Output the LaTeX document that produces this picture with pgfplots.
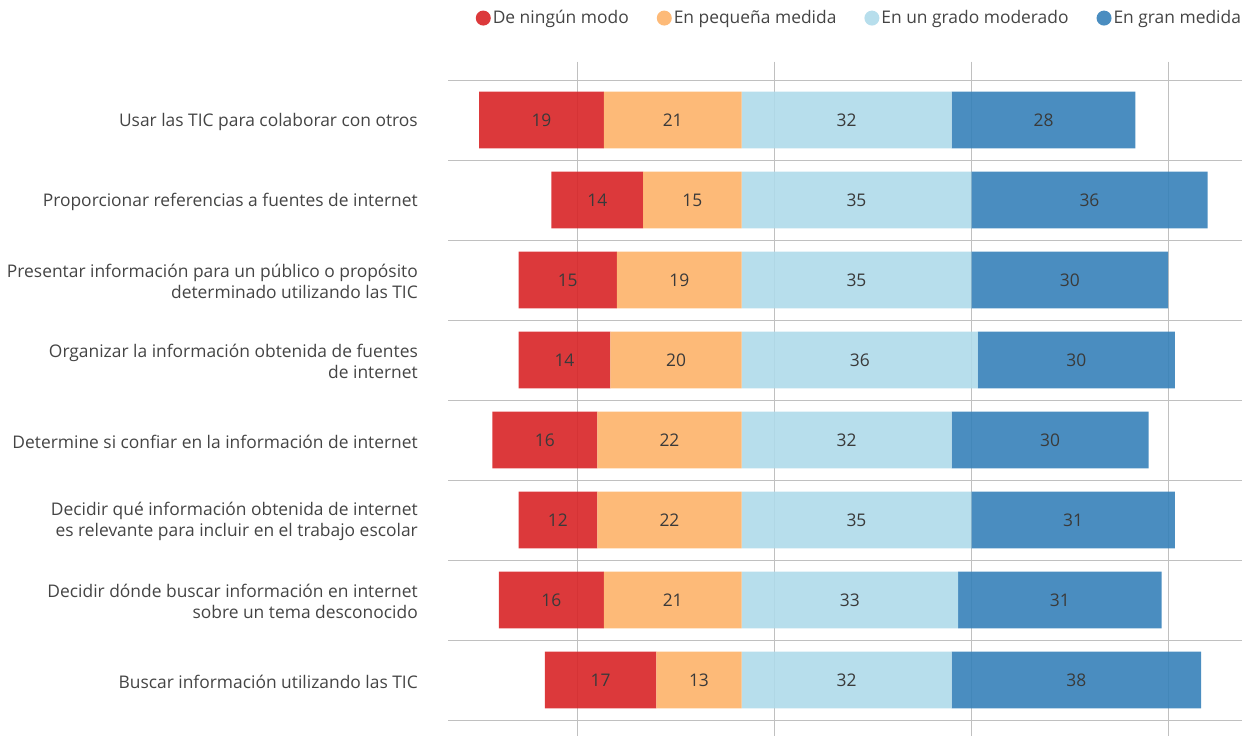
\documentclass[border=0pt]{standalone}
\usepackage{pgfplots}
\pgfplotsset{compat=1.18}
\usepackage{pgfplotstable}
\usepackage{fontspec}
\setmainfont{Open Sans}

\definecolor{cRed}{RGB}{216,36,38}
\definecolor{cOra}{RGB}{253,178,105}
\definecolor{cLbl}{RGB}{175,218,234}
\definecolor{cDbl}{RGB}{54,129,185}
\definecolor{txt}{RGB}{68,68,68}
\definecolor{gridc}{RGB}{192,192,192}

% negative columns go left of the centre line, the positive ones right
\pgfplotstableread{
idx red ora lbl dbl nred nora
0 19 21 32 28 -19 -21
1 14 15 35 36 -14 -15
2 15 19 35 30 -15 -19
3 14 20 36 30 -14 -20
4 16 22 32 30 -16 -22
5 12 22 35 31 -12 -22
6 16 21 33 31 -16 -21
7 17 13 32 38 -17 -13
}\datatable

\begin{document}
\begin{tikzpicture}
\useasboundingbox (0,0) rectangle (1256pt,736pt);
\begin{axis}[
    at={(448.3pt,0pt)}, anchor=south west,
    scale only axis, width=793.4pt, height=674.3pt,
    xbar stacked, stack negative=separate, bar width=56.7pt,
    xmin=-44.7, xmax=76.2,
    ymin=-0.729, ymax=7.7, y dir=reverse,
    axis line style={draw=none},
    major tick length=0pt, minor tick length=0pt,
    xtick={-25,5,35,65}, xticklabels={},
    xmajorgrids,
    ytick={0,...,7},
    minor ytick={-0.5,0.5,...,7.5},
    yminorgrids,
    grid style={gridc, line width=1pt},
    minor grid style={gridc, line width=1pt},
    yticklabels={
        Usar las TIC para colaborar con otros,
        Proporcionar referencias a fuentes de internet,
        {Presentar información para un público o propósito\\determinado utilizando las TIC},
        {Organizar la información obtenida de fuentes\\de internet},
        Determine si confiar en la información de internet,
        {Decidir qué información obtenida de internet\\es relevante para incluir en el trabajo escolar},
        {Decidir dónde buscar información en internet\\sobre un tema desconocido},
        Buscar información utilizando las TIC},
    yticklabel style={align=right, text=txt, inner sep=0pt, xshift=-30.3pt,
        yshift=-1.5pt, font=\fontsize{17.4}{21}\selectfont},
    every axis plot/.append style={draw=none, fill opacity=0.9},
    point meta=explicit,
    nodes near coords style={text=txt!85!black, fill opacity=1, text opacity=1,
        font=\fontsize{17.4}{20}\selectfont, yshift=-0.5pt,
        /pgf/number format/assume math mode=true},
    legend columns=4,
    legend style={draw=none, fill=none, text=txt,
        font=\fontsize{17.4}{20}\selectfont,
        at={(1.0056,1.0647)}, anchor=east,
        /tikz/every even column/.append style={column sep=26pt}},
]
% legend images first, so that \legend names only these four
\addlegendimage{legend image code/.code={\fill[cRed] (0pt,0pt) circle (7.5pt);}}
\addlegendimage{legend image code/.code={\fill[cOra] (0pt,0pt) circle (7.5pt);}}
\addlegendimage{legend image code/.code={\fill[cLbl] (0pt,0pt) circle (7.5pt);}}
\addlegendimage{legend image code/.code={\fill[cDbl] (0pt,0pt) circle (7.5pt);}}
\addplot[fill=cOra, nodes near coords] table[x=nora, y=idx, meta=ora] {\datatable};
\addplot[fill=cRed, nodes near coords] table[x=nred, y=idx, meta=red] {\datatable};
\addplot[fill=cLbl, nodes near coords] table[x=lbl, y=idx, meta=lbl] {\datatable};
\addplot[fill=cDbl, nodes near coords] table[x=dbl, y=idx, meta=dbl] {\datatable};
\legend{De ningún modo, En pequeña medida, En un grado moderado, En gran medida}
\end{axis}
\end{tikzpicture}
\end{document}
